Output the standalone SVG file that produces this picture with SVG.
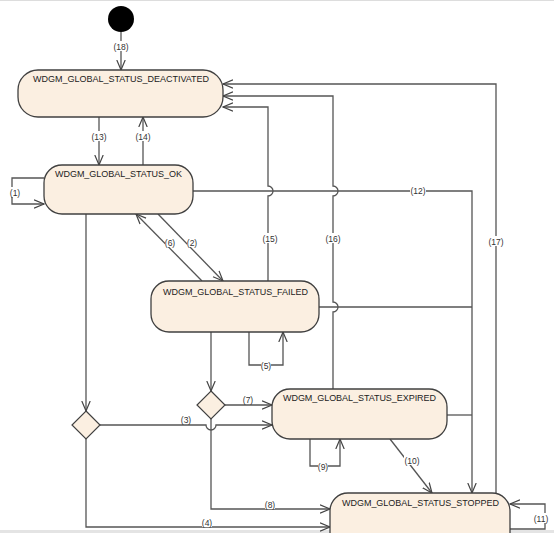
<svg xmlns="http://www.w3.org/2000/svg" width="554" height="533" viewBox="0 0 554 533">
<style>
.st{fill:#fbefe1;stroke:#404040;stroke-width:1.3}
.dc{fill:#fbefe1;stroke:#404040;stroke-width:1.2}
.nm{font-family:"Liberation Sans",Arial,sans-serif;font-size:9px;fill:#222}
.ln{fill:none;stroke:#555;stroke-width:1.3}
.la{fill:none;stroke:#555;stroke-width:1.3;marker-end:url(#ah)}
.bg{fill:#fff}
.lb{font-family:"Liberation Sans",Arial,sans-serif;font-size:8.5px;fill:#333;text-anchor:middle}
</style>
<defs>
<marker id="ah" markerUnits="userSpaceOnUse" markerWidth="12" markerHeight="12" refX="10" refY="5" orient="auto" viewBox="0 0 12 10">
<path d="M0,0.8 L10,5 L0,9.2" fill="none" stroke="#444" stroke-width="1.2"/>
</marker>
</defs>
<rect width="554" height="533" fill="#fff"/>
<line x1="0" y1="0.5" x2="554" y2="0.5" stroke="#ddd" stroke-width="1"/>
<rect x="0" y="530" width="554" height="3" fill="#e4e4e4"/>

<g id="connectors">
<path class="la" d="M121,32 V70"/>
<path class="la" d="M99,117 V165"/>
<path class="la" d="M143,165 V117"/>
<path class="la" d="M44,178 H12 V204 H44"/>
<path class="la" d="M193,191 H472 V493"/>
<path class="la" d="M496,496 V84 H223"/>
<path class="la" d="M333,389 V312 A5,5 0 0 0 333,302 V196 A5,5 0 0 0 333,186 V96 H223"/>
<path class="la" d="M268,281 V196 A5,5 0 0 0 268,186 V107 H223"/>
<path class="la" d="M202,281 L136,214"/>
<path class="la" d="M158,214 L223,281"/>
<path class="ln" d="M319,307 H472"/>
<path class="la" d="M249,332 V365 H283 V332"/>
<path class="la" d="M211,332 V391"/>
<path class="la" d="M225,405 H272"/>
<path class="la" d="M100,425 H206 A5,5 0 0 0 216,425 H272"/>
<path class="la" d="M86,214 V411"/>
<path class="la" d="M211,419 V509 H330"/>
<path class="la" d="M86,439 V527 H330"/>
<path class="ln" d="M447,415 H472"/>
<path class="la" d="M310,439 V466 H340 V439"/>
<path class="la" d="M390,439 L432,493"/>
<path class="la" d="M510,529 H545 V504 H510"/>
<rect class="bg" x="113" y="41" width="16" height="10"/><text class="lb" x="121" y="50">(18)</text>
<rect class="bg" x="91" y="131" width="16" height="10"/><text class="lb" x="99" y="140">(13)</text>
<rect class="bg" x="135" y="131" width="16" height="10"/><text class="lb" x="143" y="140">(14)</text>
<rect class="bg" x="10" y="187" width="11" height="10"/><text class="lb" x="15" y="196">(1)</text>
<rect class="bg" x="410" y="185" width="16" height="10"/><text class="lb" x="418" y="194">(12)</text>
<rect class="bg" x="488" y="236" width="16" height="10"/><text class="lb" x="496" y="245">(17)</text>
<rect class="bg" x="325" y="233" width="16" height="10"/><text class="lb" x="333" y="242">(16)</text>
<rect class="bg" x="262" y="233" width="16" height="10"/><text class="lb" x="270" y="242">(15)</text>
<rect class="bg" x="165" y="237" width="10" height="10"/><text class="lb" x="170" y="246">(6)</text>
<rect class="bg" x="187" y="237" width="10" height="10"/><text class="lb" x="192" y="246">(2)</text>
<rect class="bg" x="261" y="360" width="10" height="10"/><text class="lb" x="266" y="369">(5)</text>
<rect class="bg" x="243" y="394" width="10" height="10"/><text class="lb" x="248" y="403">(7)</text>
<rect class="bg" x="181" y="414" width="10" height="10"/><text class="lb" x="186" y="423">(3)</text>
<rect class="bg" x="265" y="499" width="10" height="10"/><text class="lb" x="270" y="508">(8)</text>
<rect class="bg" x="202" y="517" width="10" height="10"/><text class="lb" x="207" y="526">(4)</text>
<rect class="bg" x="318" y="461" width="10" height="10"/><text class="lb" x="323" y="470">(9)</text>
<rect class="bg" x="404" y="455" width="16" height="10"/><text class="lb" x="412" y="464">(10)</text>
<rect class="bg" x="533" y="513" width="16" height="10"/><text class="lb" x="541" y="522">(11)</text>
</g>

<g id="initial"><circle cx="121" cy="19" r="13" fill="#000"/></g>

<g id="deactivated">
<rect class="st" x="18" y="70" width="205" height="47" rx="20" ry="20"/>
<text class="nm" x="33" y="82" textLength="176">WDGM_GLOBAL_STATUS_DEACTIVATED</text>
</g>
<g id="ok">
<rect class="st" x="44" y="165" width="149" height="49" rx="18" ry="18"/>
<text class="nm" x="55" y="177" textLength="127">WDGM_GLOBAL_STATUS_OK</text>
</g>
<g id="failed">
<rect class="st" x="151" y="281" width="168" height="51" rx="18" ry="18"/>
<text class="nm" x="163" y="295" textLength="145">WDGM_GLOBAL_STATUS_FAILED</text>
</g>
<g id="expired">
<rect class="st" x="272" y="389" width="175" height="50" rx="18" ry="18"/>
<text class="nm" x="283" y="401" textLength="153">WDGM_GLOBAL_STATUS_EXPIRED</text>
</g>
<g id="stopped">
<rect class="st" x="330" y="493" width="180" height="60" rx="18" ry="18"/>
<text class="nm" x="342" y="506" textLength="157">WDGM_GLOBAL_STATUS_STOPPED</text>
</g>
<g id="decision1"><path class="dc" d="M86,411 L100,425 L86,439 L72,425 Z"/></g>
<g id="decision2"><path class="dc" d="M211,391 L225,405 L211,419 L197,405 Z"/></g>
</svg>
